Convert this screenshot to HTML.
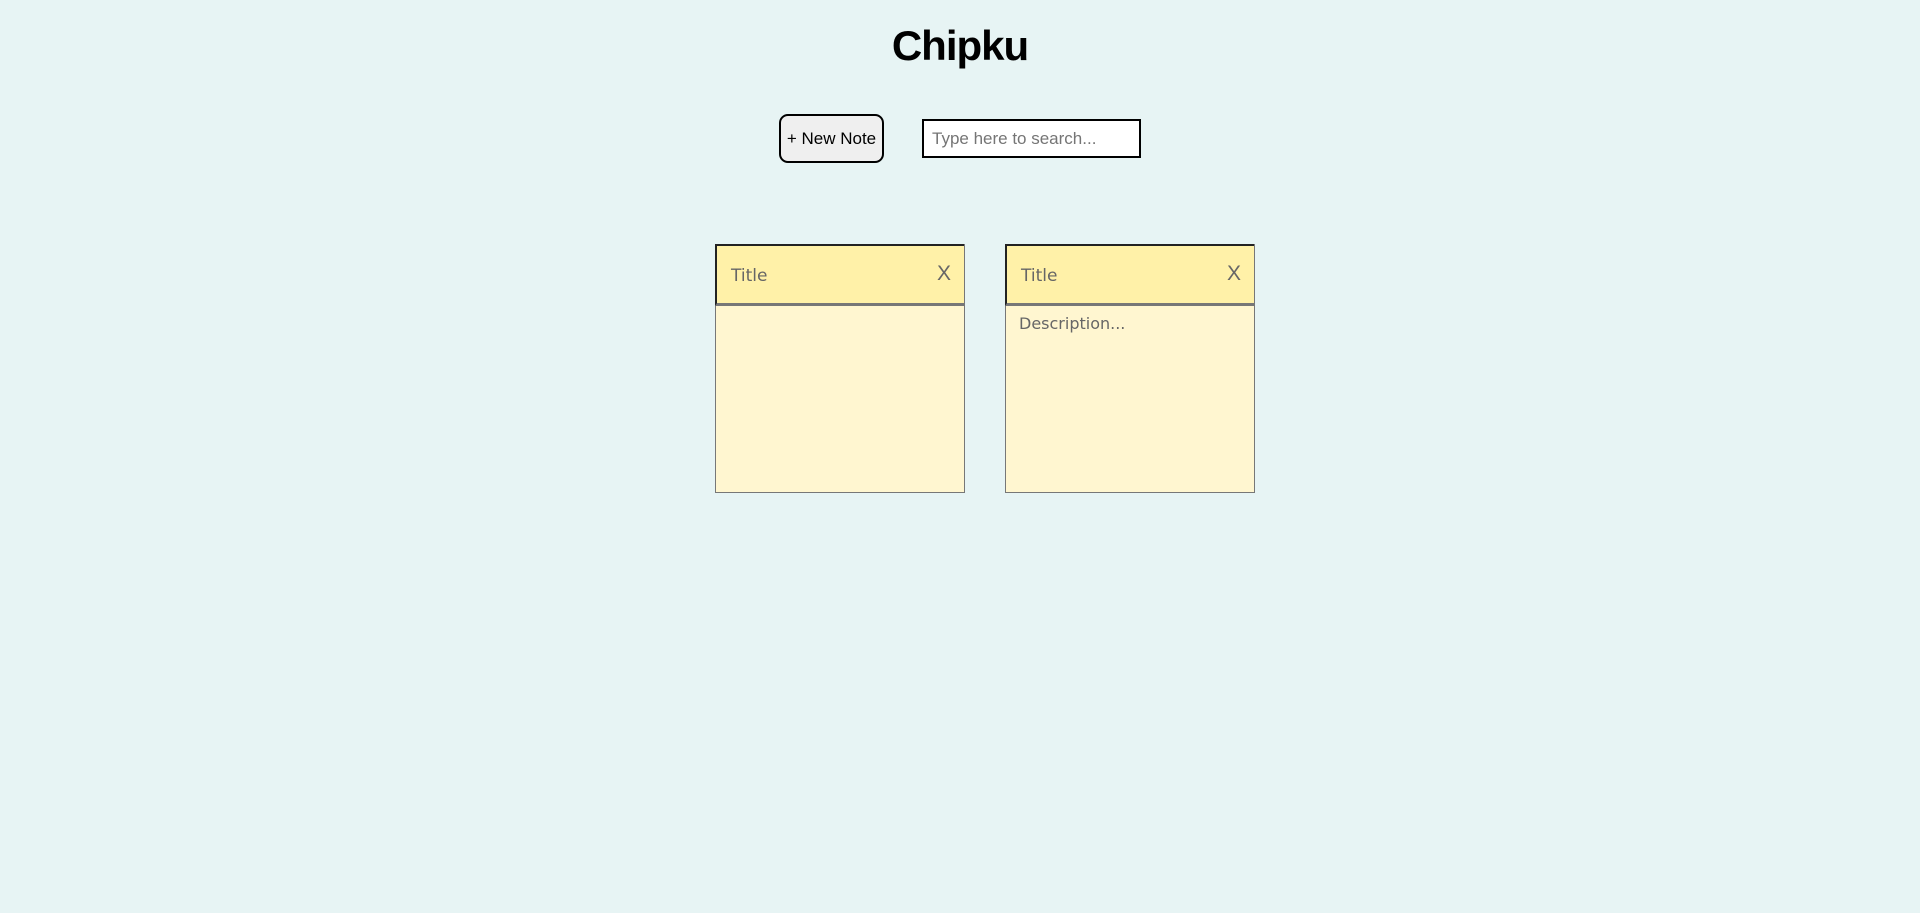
<!DOCTYPE html>
<html><head><style>
html,body{margin:0;padding:0;width:1920px;height:913px;background:#e7f4f4;overflow:hidden;font-family:"Liberation Sans",sans-serif}
.h{position:absolute;left:0;width:1920px;top:22px;text-align:center;font:bold 42px "Liberation Sans",sans-serif;letter-spacing:-1px;color:#000}
.btn{position:absolute;left:779px;top:114px;width:101px;height:45px;border:2px solid #000;border-radius:9px;background:#efefef;font-size:17px;line-height:45px;text-align:center;color:#000}
.inp{position:absolute;left:922px;top:119px;height:35px;border:2px solid #000;background:#fff;font-size:17px;line-height:35px;color:#757575;padding-left:8px;width:207px}
.note{position:absolute;top:244px;width:248px;height:247px;border:1px solid #777;background:#fff6d0;font-family:"DejaVu Sans",sans-serif;color:#666}
.hd{position:absolute;left:0;top:0;width:249px;height:62px;background:#fff1a8;border-top:2px solid #222;border-left:2px solid #222;border-bottom:3px solid #777;box-sizing:border-box;margin:-1px 0 0 -1px}
.t{position:absolute;left:14px;top:20px;font-size:17px}
.x{position:absolute;right:13px;top:16px;font-size:21px;font-family:"Liberation Sans",sans-serif}
.d{position:absolute;left:13px;top:69px;font-size:16px}
</style></head><body>
<div class="h">Chipku</div>
<div class="btn">+ New Note</div>
<div class="inp">Type here to search...</div>
<div class="note" style="left:715px"><div class="hd"><span class="t">Title</span><span class="x">X</span></div></div>
<div class="note" style="left:1005px"><div class="hd"><span class="t">Title</span><span class="x">X</span></div><span class="d">Description...</span></div>
</body></html>
